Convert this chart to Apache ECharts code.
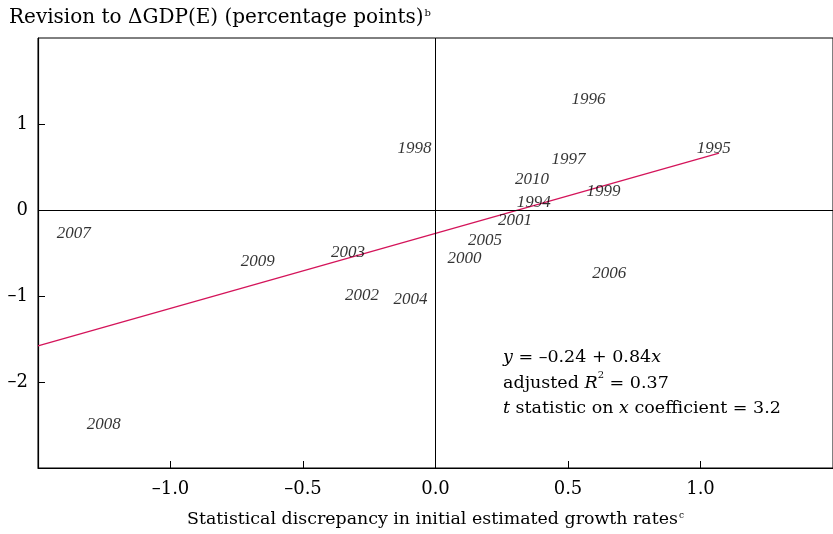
<!DOCTYPE html>
<html>
<head>
<meta charset="utf-8">
<script src="https://cdn.jsdelivr.net/npm/echarts@6/dist/echarts.min.js"></script>
<style>
  html, body { margin: 0; padding: 0; background: #fff; }
  #main { width: 833px; height: 534px; }
</style>
</head>
<body>
<div id="main"></div>
<script>
// years shown as labels, and where each label sits
var years = ['1994', '1995', '1996', '1997', '1998', '1999', '2000', '2001', '2002',
             '2003', '2004', '2005', '2006', '2007', '2008', '2009', '2010'];
var discrepancy = [0.371, 1.05, 0.577, 0.502, -0.079, 0.634, 0.109, 0.30, -0.277,
                   -0.33, -0.094, 0.187, 0.656, -1.365, -1.252, -0.671, 0.364];
var revision = [0.09, 0.72, 1.29, 0.59, 0.72, 0.21, -0.56, -0.12, -0.99,
                -0.49, -1.04, -0.36, -0.74, -0.27, -2.49, -0.60, 0.36];

// fitted line as drawn (ends)
var fitX = [-1.5, 1.07];
var fitY = [-1.58, 0.66];

var serif = '"Liberation Serif", "DejaVu Serif", serif';
var wide = '"DejaVu Serif", "Liberation Serif", serif'; // reference text runs wide

var points = [];
for (var i = 0; i < years.length; i++) {
  points.push([discrepancy[i], revision[i], years[i]]);
}
var fitLine = [];
for (var j = 0; j < fitX.length; j++) {
  fitLine.push([fitX[j], fitY[j]]);
}

function dash(v, digits) { // minus sign printed as an en dash
  var s = digits ? Math.abs(v).toFixed(digits) : String(Math.abs(v));
  return (v < 0 ? '\u2013' : '') + s;
}

var chart = echarts.init(document.getElementById('main'));

chart.setOption({
  animation: false,
  title: {
    text: '{t|Revision to \u0394GDP(E) (percentage points)}{s|b}',
    left: 4,
    top: 3,
    textStyle: {
      fontWeight: 'normal',
      rich: {
        t: { fontFamily: wide, fontSize: 20, fontWeight: 'normal', color: '#000' },
        s: { fontFamily: wide, fontSize: 10, fontWeight: 'normal', color: '#000', verticalAlign: 'top', padding: [0, 0, 9, 1] }
      }
    }
  },
  grid: { left: 38, right: -5, top: 38, bottom: 66, show: true, borderColor: '#000', borderWidth: 1 },
  xAxis: {
    type: 'value',
    min: -1.5,
    max: 1.5,
    interval: 0.5,
    splitLine: { show: false },
    axisLine: { onZero: false, lineStyle: { color: '#000', width: 1.2 } },
    axisTick: { inside: true, length: 7, lineStyle: { color: '#000' } },
    axisLabel: {
      showMinLabel: false,
      showMaxLabel: false,
      margin: 12,
      fontFamily: wide,
      fontSize: 18,
      color: '#000',
      formatter: function (v) { return dash(v, 1); }
    },
    name: '{t|Statistical discrepancy in initial estimated growth rates}{s|c}',
    nameLocation: 'middle',
    nameGap: 43,
    nameTextStyle: {
      rich: {
        t: { fontFamily: wide, fontSize: 17.4, color: '#000' },
        s: { fontFamily: wide, fontSize: 9, color: '#000', verticalAlign: 'top', padding: [0, 0, 8, 1] }
      }
    }
  },
  yAxis: {
    type: 'value',
    min: -3,
    max: 2,
    interval: 1,
    splitLine: { show: false },
    axisLine: { onZero: false, lineStyle: { color: '#000', width: 1.2 } },
    axisTick: { inside: true, length: 7, lineStyle: { color: '#000' } },
    axisLabel: {
      showMinLabel: false,
      showMaxLabel: false,
      margin: 10,
      fontFamily: wide,
      fontSize: 18,
      color: '#000',
      formatter: function (v) { return dash(v, 0); }
    }
  },
  series: [
    {
      type: 'scatter',
      data: points,
      symbolSize: 0,
      itemStyle: { color: '#000' },
      label: {
        show: true,
        position: 'inside',
        formatter: function (p) { return p.value[2]; },
        fontFamily: serif,
        fontStyle: 'italic',
        fontSize: 17,
        color: '#000',
        textBorderWidth: 0
      },
      markLine: {
        silent: true,
        symbol: 'none',
        label: { show: false },
        lineStyle: { color: '#000', width: 1, type: 'solid' },
        data: [{ xAxis: 0 }, { yAxis: 0 }]
      },
      z: 3
    },
    {
      type: 'line',
      data: fitLine,
      symbol: 'none',
      lineStyle: { color: '#d4145a', width: 1.3 },
      z: 2
    }
  ],
  graphic: [{
    type: 'text',
    left: 503,
    top: 345,
    style: {
      text: '{i|y} = \u20130.24 + 0.84{i|x}\nadjusted {i|R}{s|2} = 0.37\n{i|t} statistic on {i|x} coefficient = 3.2',
      font: '17.5px ' + wide,
      fill: '#000',
      lineHeight: 25.5,
      rich: {
        i: { fontFamily: wide, fontStyle: 'italic', fontSize: 17.5, lineHeight: 25.5 },
        s: { fontFamily: wide, fontSize: 10, verticalAlign: 'top', lineHeight: 25.5, padding: [0, 0, 8, 0] }
      }
    }
  }]
});
</script>
</body>
</html>
